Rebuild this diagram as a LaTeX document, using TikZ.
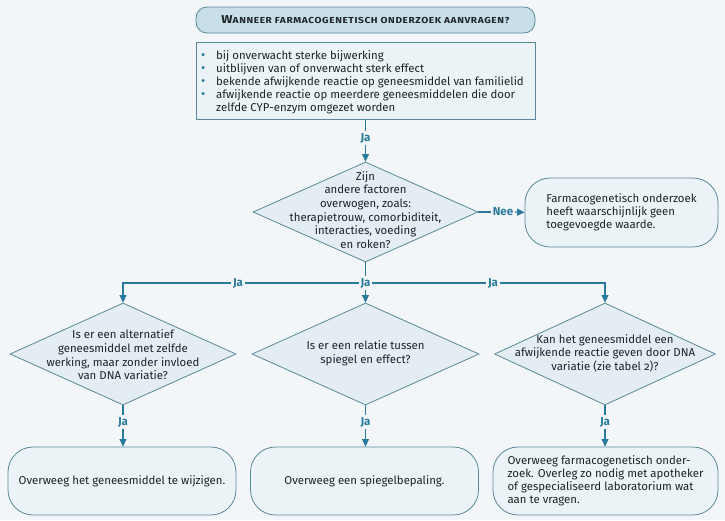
\documentclass[tikz,border=0pt]{standalone}
\usepackage{graphicx}
\usepackage{fontspec}
\setmainfont{Fira Sans}[Numbers=OldStyle]
\usetikzlibrary{shapes.geometric,arrows.meta}
\definecolor{bg}{HTML}{F3F6F8}
\definecolor{ln}{HTML}{2A7B9B}
\definecolor{bd}{HTML}{5A8897}
\definecolor{dfill}{HTML}{E3EDF2}
\definecolor{bfill}{HTML}{ECF3F7}
\definecolor{tfill}{HTML}{C8DEE8}
\definecolor{txt}{HTML}{1E2528}
\newcommand\bul{\makebox[15pt][l]{\textcolor{ln}{\raisebox{0.2pt}{\fontsize{13}{13}\selectfont•}}}}
\begin{document}
\begin{tikzpicture}[x=1pt,y=-1pt,
  font=\fontsize{11.4}{13}\selectfont, text=txt,
  dia/.style={diamond, draw=bd, fill=dfill, line width=0.8pt, inner sep=0pt},
  qtext/.style={align=center, inner sep=0pt, font=\fontsize{11.4}{13.6}\selectfont},
  endbox/.style={draw=bd, fill=bfill, rounded corners=25pt, line width=0.8pt, align=left, minimum height=68pt, font=\fontsize{11.4}{13}\selectfont},
  jalab/.style={text=ln, font=\fontsize{11.5}{12}\selectfont\bfseries, inner sep=1.5pt},
  conn/.style={draw=ln, line width=1.2pt},
  arr/.style={conn, -{Triangle[length=7.5pt,width=7pt]}}
]
\fill[bg] (0,0) rectangle (725,520);
\useasboundingbox (0,0) rectangle (725,520);

% title
\node[draw=bd, fill=tfill, rounded corners=11pt, minimum width=339pt, minimum height=26pt, line width=0.8pt] (title) at (365.5,20)
  {\resizebox{288pt}{\height}{\bfseries W{\fontsize{8.7}{10}\selectfont\addfontfeature{LetterSpace=6}ANNEER FARMACOGENETISCH ONDERZOEK AANVRAGEN?}}};

% criteria box
\node[draw=bd, fill=bfill, minimum width=339pt, minimum height=77pt, line width=0.8pt] (crit) at (365.5,80.5) {};
\node[anchor=north west, align=left, inner sep=0pt] (crittext) at (201,50.5)
  {\bul bij onverwacht sterke bijwerking\\
   \bul uitblijven van of onverwacht sterk effect\\
   \bul bekende afwijkende reactie op geneesmiddel van familielid\\
   \bul afwijkende reactie op meerdere geneesmiddelen die door\\
   \hspace*{15pt}zelfde CYP-enzym omgezet worden};

% first question
\node[jalab] (ja0) at (365.5,138) {Ja};
\node[dia, minimum width=225pt, minimum height=100pt] (q1) at (365.5,212) {};
\node[qtext] (q1t) at (365.5,210) {Zijn\\andere factoren\\overwogen, zoals:\\therapietrouw, comorbiditeit,\\interacties, voeding\\en roken?};
\draw[conn] (crit.south) -- (ja0.north);
\draw[arr] (ja0.south) -- (q1.north);

% nee branch
\node[endbox, minimum width=193pt, minimum height=69pt] (r1) at (621.5,212.5)
  {Farmacogenetisch onderzoek\\heeft waarschijnlijk geen\\toegevoegde waarde.};
\node[jalab] (nee) at (503,212) {Nee};
\draw[conn] (q1.east) -- (nee.west);
\draw[arr] (nee.east) -- (r1.west);

% branch row
\node[jalab] (jaM) at (365.5,283) {Ja};
\node[jalab] (jaL) at (238,283) {Ja};
\node[jalab] (jaR) at (493,283) {Ja};
\coordinate (cL) at (123,283);
\coordinate (cR) at (605,283);

\node[dia, minimum width=226pt, minimum height=102pt] (q2) at (123,354) {};
\node[qtext] (q2t) at (123,355) {Is er een alternatief\\geneesmiddel met zelfde\\werking, maar zonder invloed\\van DNA variatie?};
\node[dia, minimum width=227pt, minimum height=102pt] (q3) at (365.5,354) {};
\node[qtext] (q3t) at (365.5,353) {Is er een relatie tussen\\spiegel en effect?};
\node[dia, minimum width=221pt, minimum height=102pt] (q4) at (605,354) {};
\node[qtext] (q4t) at (605,353) {Kan het geneesmiddel een\\afwijkende reactie geven door DNA\\variatie (zie tabel 2)?};

\draw[conn] (q1.south) -- (jaM.north);
\draw[arr] (jaL.west) -- (cL) -- (q2.north);
\draw[conn] (jaL.east) -- (jaM.west);
\draw[conn] (jaM.east) -- (jaR.west);
\draw[arr] (jaR.east) -- (cR) -- (q4.north);
\draw[arr] (jaM.south) -- (q3.north);

% bottom row
\node[jalab] (jb1) at (123,422) {Ja};
\node[jalab] (jb2) at (365.5,422) {Ja};
\node[jalab] (jb3) at (605,422) {Ja};
\node[endbox, minimum width=228pt] (b1) at (122,481) {Overweeg het geneesmiddel te wijzigen.};
\node[endbox, minimum width=228pt] (b2) at (364.5,481) {Overweeg een spiegelbepaling.};
\node[endbox, minimum width=225pt] (b3) at (605.5,481)
  {Overweeg farmacogenetisch onder-\\zoek. Overleg zo nodig met apotheker\\of gespecialiseerd laboratorium wat\\aan te vragen.};

\draw[conn] (q2.south) -- (jb1.north);
\draw[arr] (jb1.south) -- (b1.north -| jb1);
\draw[conn] (q3.south) -- (jb2.north);
\draw[arr] (jb2.south) -- (b2.north -| jb2);
\draw[conn] (q4.south) -- (jb3.north);
\draw[arr] (jb3.south) -- (b3.north -| jb3);
\end{tikzpicture}
\end{document}
